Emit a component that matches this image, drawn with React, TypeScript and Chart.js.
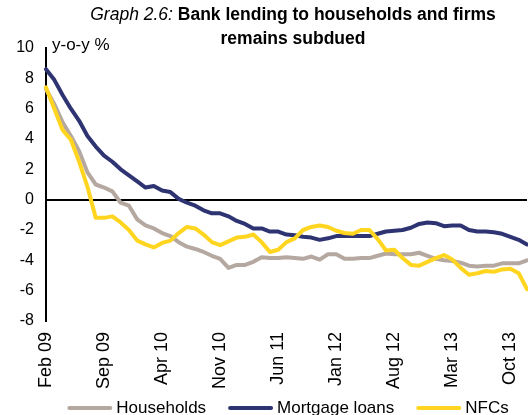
import React, { useEffect, useRef } from 'react';
import { Chart, registerables } from 'chart.js';

Chart.register(...registerables);

const months = [
  'Feb 09', 'Mar 09', 'Apr 09', 'May 09', 'Jun 09', 'Jul 09', 'Aug 09', 'Sep 09', 'Oct 09', 'Nov 09', 'Dec 09',
  'Jan 10', 'Feb 10', 'Mar 10', 'Apr 10', 'May 10', 'Jun 10', 'Jul 10', 'Aug 10', 'Sep 10', 'Oct 10', 'Nov 10', 'Dec 10',
  'Jan 11', 'Feb 11', 'Mar 11', 'Apr 11', 'May 11', 'Jun 11', 'Jul 11', 'Aug 11', 'Sep 11', 'Oct 11', 'Nov 11', 'Dec 11',
  'Jan 12', 'Feb 12', 'Mar 12', 'Apr 12', 'May 12', 'Jun 12', 'Jul 12', 'Aug 12', 'Sep 12', 'Oct 12', 'Nov 12', 'Dec 12',
  'Jan 13', 'Feb 13', 'Mar 13', 'Apr 13', 'May 13', 'Jun 13', 'Jul 13', 'Aug 13', 'Sep 13', 'Oct 13', 'Nov 13', 'Dec 13',
];

const households = [
  7.3, 6.3, 5.1, 4.2, 3.2, 1.8, 1.0, 0.8, 0.55, -0.2, -0.4, -1.3, -1.7, -1.9, -2.2,
  -2.4, -2.8, -3.1, -3.25, -3.45, -3.7, -3.9, -4.5, -4.3, -4.3, -4.1, -3.8, -3.85, -3.85, -3.8,
  -3.85, -3.9, -3.75, -3.95, -3.6, -3.6, -3.9, -3.9, -3.85, -3.85, -3.7, -3.55, -3.6, -3.6, -3.6,
  -3.5, -3.7, -3.9, -4.0, -4.05, -4.15, -4.35, -4.4, -4.35, -4.35, -4.2, -4.2, -4.2, -4.0,
];

const mortgageLoans = [
  8.6, 7.9, 6.9, 6.0, 5.2, 4.2, 3.5, 2.9, 2.5, 2.0, 1.6, 1.2, 0.8, 0.9, 0.6,
  0.5, 0.05, -0.2, -0.4, -0.7, -0.9, -0.9, -1.1, -1.4, -1.6, -1.9, -1.9, -2.1, -2.1, -2.3,
  -2.35, -2.45, -2.5, -2.65, -2.55, -2.4, -2.4, -2.4, -2.4, -2.4, -2.25, -2.1, -2.05, -2.0, -1.85,
  -1.6, -1.5, -1.55, -1.75, -1.7, -1.7, -2.0, -2.1, -2.1, -2.15, -2.25, -2.45, -2.65, -2.95,
];

const nfcs = [
  7.4, 6.0, 4.6, 3.95, 2.5, 0.85, -1.2, -1.2, -1.1, -1.5, -2.0, -2.7, -2.95, -3.15, -2.85,
  -2.7, -2.2, -1.8, -1.9, -2.3, -2.8, -3.0, -2.75, -2.5, -2.45, -2.3, -2.8, -3.45, -3.3, -2.8,
  -2.55, -2.0, -1.8, -1.7, -1.8, -2.05, -2.2, -2.25, -2.0, -2.0, -2.6, -3.35, -3.3, -3.85, -4.3,
  -4.35, -4.1, -3.85, -3.65, -3.95, -4.5, -4.95, -4.85, -4.7, -4.75, -4.6, -4.55, -4.85, -5.9,
];

const seriesNames = ['Households', 'Mortgage loans', 'NFCs'];
const yMin = -8;
const yMax = 10;
const yStep = 2;
const labelEvery = 7;

const titleItalic = 'Graph 2.6: ';
const titleBoldLine1 = 'Bank lending to households and firms';
const titleBoldLine2 = 'remains subdued';
const yUnitLabel = 'y-o-y %';

const FONT = '"Liberation Sans", Arial, Helvetica, sans-serif';
const COLORS = ['#b4a8a0', '#2e3472', '#ffd520'];

export default function App() {
  const canvasRef = useRef<HTMLCanvasElement | null>(null);

  useEffect(() => {
    const canvas = canvasRef.current;
    if (!canvas) return;

    const overlay = {
      id: 'overlay',
      afterDraw(chart: any) {
        const ctx = chart.ctx as CanvasRenderingContext2D;
        ctx.save();
        ctx.fillStyle = '#000';
        ctx.textBaseline = 'middle';

        // Title
        const italicFont = `italic 17.5px ${FONT}`;
        const boldFont = `bold 17.5px ${FONT}`;
        ctx.font = italicFont;
        const w1 = ctx.measureText(titleItalic).width;
        ctx.font = boldFont;
        const w2 = ctx.measureText(titleBoldLine1).width;
        const cx = 293;
        const x0 = cx - (w1 + w2) / 2;
        ctx.textAlign = 'left';
        ctx.font = italicFont;
        ctx.fillText(titleItalic, x0, 15);
        ctx.font = boldFont;
        ctx.fillText(titleBoldLine1, x0 + w1, 15);
        ctx.textAlign = 'center';
        ctx.fillText(titleBoldLine2, cx, 39);

        // Unit label
        ctx.textAlign = 'left';
        ctx.font = `17px ${FONT}`;
        ctx.fillText(yUnitLabel, 52, 45);

        // Legend
        ctx.font = `17px ${FONT}`;
        const lineLen = 45;
        const lineGap = 4;
        const itemGap = 22;
        const widths = seriesNames.map((n) => ctx.measureText(n).width);
        const total = widths.reduce((a, b) => a + b, 0) + seriesNames.length * (lineLen + lineGap) + itemGap * (seriesNames.length - 1);
        let x = 288 - total / 2;
        const ly = 408;
        seriesNames.forEach((name, i) => {
          ctx.strokeStyle = COLORS[i];
          ctx.lineWidth = 4;
          ctx.lineCap = 'round';
          ctx.beginPath();
          ctx.moveTo(x + 2, ly);
          ctx.lineTo(x + lineLen - 2, ly);
          ctx.stroke();
          ctx.fillStyle = '#000';
          ctx.textAlign = 'left';
          ctx.fillText(name, x + lineLen + lineGap, ly);
          x += lineLen + lineGap + widths[i] + itemGap;
        });
        ctx.restore();
      },
    };

    const chart = new Chart(canvas, {
      type: 'line',
      data: {
        labels: months,
        datasets: [
          { label: seriesNames[0], data: households, borderColor: COLORS[0], order: 3 },
          { label: seriesNames[1], data: mortgageLoans, borderColor: COLORS[1], order: 2 },
          { label: seriesNames[2], data: nfcs, borderColor: COLORS[2], order: 1 },
        ].map((d) => ({
          ...d,
          borderWidth: 4,
          pointRadius: 0,
          pointHoverRadius: 0,
          tension: 0,
          fill: false,
          borderJoinStyle: 'round' as const,
          borderCapStyle: 'round' as const,
        })),
      },
      options: {
        responsive: false,
        animation: false,
        events: [],
        layout: { padding: { top: 48, right: 1, left: 0, bottom: 0 } },
        plugins: {
          legend: { display: false },
          title: { display: false },
          tooltip: { enabled: false },
        },
        scales: {
          x: {
            type: 'category',
            offset: false,
            grid: { display: false },
            border: { display: false },
            ticks: {
              autoSkip: false,
              maxRotation: 90,
              minRotation: 90,
              color: '#000',
              padding: 3,
              font: { family: FONT, size: 18 },
              callback: (_v: any, i: number) => (i % labelEvery === 0 ? months[i] : ''),
            },
            afterFit: (s: any) => {
              s.height = 94;
              s.paddingLeft = 0;
              s.paddingRight = 0;
            },
          },
          y: {
            min: yMin,
            max: yMax,
            ticks: {
              stepSize: yStep,
              color: '#000',
              padding: 12,
              font: { family: FONT, size: 16 },
            },
            grid: {
              drawTicks: false,
              lineWidth: 2,
              color: (c: any) => (c.tick && c.tick.value === 0 ? '#000' : 'rgba(0,0,0,0)'),
            },
            border: { display: true, color: '#000', width: 2 },
            afterFit: (s: any) => {
              s.width = 46;
            },
          },
        },
      },
      plugins: [overlay],
    });

    return () => chart.destroy();
  }, []);

  return (
    <div style={{ position: 'fixed', left: 0, top: 0, width: 528, height: 415, background: '#fff' }}>
      <canvas ref={canvasRef} width={528} height={415} style={{ display: 'block', width: 528, height: 415 }} />
    </div>
  );
}
